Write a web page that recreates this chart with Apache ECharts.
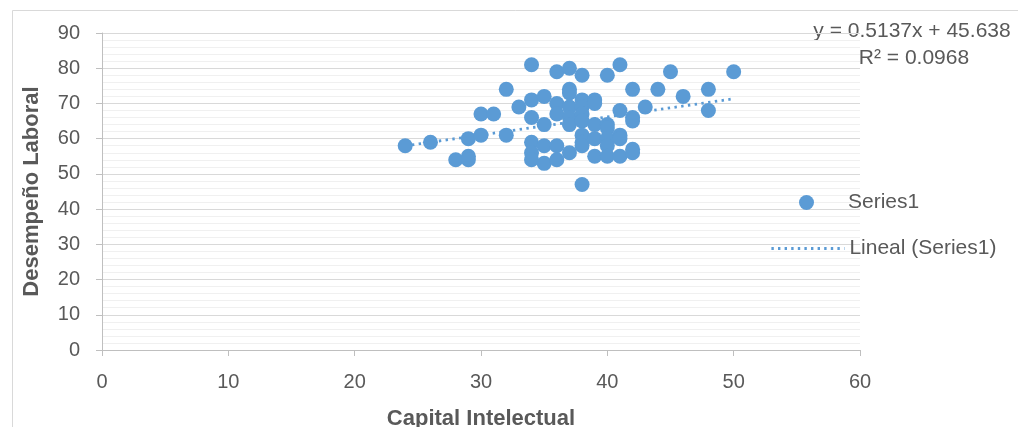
<!DOCTYPE html>
<html>
<head>
<meta charset="utf-8">
<script src="https://cdn.jsdelivr.net/npm/echarts@6/dist/echarts.min.js"></script>
<style>
html,body{margin:0;padding:0;background:#fff;}
#chart{width:1018px;height:427px;}
</style>
</head>
<body>
<div id="chart"></div>
<script>
// ---- data ----
const seriesName = 'Series1';
const trendName = 'Lineal (Series1)';
const xTitle = 'Capital Intelectual';
const yTitle = 'Desempeño Laboral';
const xValues = [24, 26, 28, 29, 29, 29, 30, 30, 31, 32, 32, 33,
  34, 34, 34, 34, 34, 34,
  35, 35, 35, 35,
  36, 36, 36, 36, 36,
  37, 37, 37, 37, 37, 37, 37,
  38, 38, 38, 38, 38, 38, 38, 38, 38,
  39, 39, 39, 39, 39,
  40, 40, 40, 40, 40, 40,
  41, 41, 41, 41, 41,
  42, 42, 42, 42, 42,
  43, 44, 45, 46, 48, 48, 50];
const yValues = [58, 59, 54, 55, 54, 60, 61, 67, 67, 74, 61, 69,
  81, 71, 66, 59, 56, 54,
  72, 64, 58, 53,
  79, 70, 67, 58, 54,
  80, 74, 73, 69, 66, 64, 56,
  78, 71, 69, 67, 65, 61, 59, 58, 47,
  71, 70, 64, 60, 55,
  78, 64, 63, 60, 58, 55,
  81, 68, 61, 60, 55,
  74, 66, 65, 57, 56,
  69, 74, 79, 72, 74, 68, 79];
const trendSlope = 0.5137;
const trendIntercept = 45.638;
const rSquared = 0.0968;

// ---- build ----
const points = xValues.map((x, i) => [x, yValues[i]]);
const xMin = Math.min(...xValues), xMax = Math.max(...xValues);
const trendPoints = [[xMin, trendSlope * xMin + trendIntercept], [xMax, trendSlope * xMax + trendIntercept]];

const FONT = '"Liberation Sans", "Open Sans", sans-serif';
const TXT = '#595959';
const BLUE = '#5b9bd5';

const chart = echarts.init(document.getElementById('chart'), null, {renderer: 'canvas'});
chart.setOption({
  animation: false,
  backgroundColor: '#ffffff',
  grid: {left: 102, right: 158, top: 33, bottom: 77, containLabel: false, outerBoundsMode: 'none'},
  xAxis: {
    type: 'value', min: 0, max: 60, interval: 10,
    name: xTitle, nameLocation: 'middle', nameGap: 58,
    nameTextStyle: {color: TXT, fontFamily: FONT, fontSize: 22, fontWeight: 'bold'},
    axisLine: {show: true, onZero: false, lineStyle: {color: '#bfbfbf', width: 1}},
    axisTick: {show: true, length: 6, lineStyle: {color: '#bfbfbf'}},
    axisLabel: {color: TXT, fontFamily: FONT, fontSize: 20, margin: 22},
    splitLine: {show: false}
  },
  yAxis: {
    type: 'value', min: 0, max: 90, interval: 10,
    name: yTitle, nameLocation: 'middle', nameGap: 59, nameRotate: 90,
    nameTextStyle: {color: TXT, fontFamily: FONT, fontSize: 22, fontWeight: 'bold'},
    axisLine: {show: true, lineStyle: {color: '#bfbfbf', width: 1}},
    axisTick: {show: true, length: 6, lineStyle: {color: '#bfbfbf'}},
    axisLabel: {color: TXT, fontFamily: FONT, fontSize: 20, margin: 22},
    splitLine: {show: true, lineStyle: {color: '#d9d9d9', width: 1}},
    minorTick: {show: false, splitNumber: 5},
    minorSplitLine: {show: true, lineStyle: {color: '#f0f0f0', width: 1}}
  },
  legend: [
    {
      data: [seriesName], left: 794, top: 187, orient: 'vertical',
      itemWidth: 15, itemHeight: 15, icon: 'circle',
      textStyle: {color: TXT, fontFamily: FONT, fontSize: 21, padding: [0, 0, 0, 29]}
    },
    {
      data: [trendName], left: 765, top: 233, orient: 'vertical',
      itemWidth: 73, itemHeight: 14,
      itemStyle: {opacity: 0},
      lineStyle: {color: BLUE, width: 2.8, type: [2.4, 4.2]},
      textStyle: {color: TXT, fontFamily: FONT, fontSize: 21}
    }
  ],
  graphic: [
    {type: 'rect', silent: true, z: -10, shape: {x: 12.5, y: 10.5, width: 1100, height: 500},
      style: {fill: 'none', stroke: '#d9d9d9', lineWidth: 1}},
    {type: 'text', silent: true, x: 912, y: 31,
      style: {text: 'y = ' + trendSlope + 'x + ' + trendIntercept, fill: TXT, font: '21px ' + FONT,
        textAlign: 'center', textVerticalAlign: 'middle'}},
    {type: 'text', silent: true, x: 914, y: 58,
      style: {text: 'R² = ' + rSquared, fill: TXT, font: '21px ' + FONT,
        textAlign: 'center', textVerticalAlign: 'middle'}}
  ],
  series: [
    {
      name: trendName, type: 'line', data: trendPoints, symbol: 'none', z: 1,
      lineStyle: {color: BLUE, width: 2.8, type: [2.4, 4.4]},
      itemStyle: {color: BLUE}, silent: true
    },
    {
      name: seriesName, type: 'scatter', data: points, symbol: 'circle', symbolSize: 15, z: 2,
      itemStyle: {color: BLUE, opacity: 1}
    }
  ]
});
</script>
</body>
</html>
